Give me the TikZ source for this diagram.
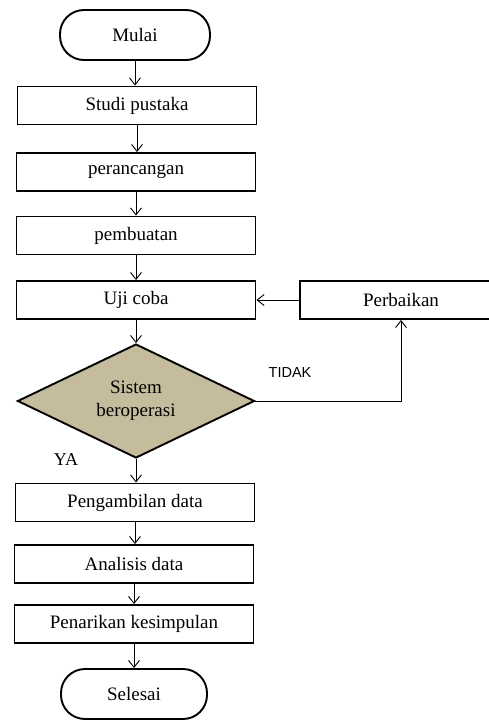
\documentclass[tikz,border=0pt]{standalone}
\usepackage{fontspec}
\setmainfont{Liberation Serif}
\newfontfamily\arialfont{Liberation Sans}
\usetikzlibrary{arrows.meta,shapes.geometric}
\definecolor{khaki}{RGB}{196,188,156}
\begin{document}
\begin{tikzpicture}[x=1pt,y=-1pt,
  boxst/.style={draw,line width=1.9pt,rectangle,minimum width=239pt,minimum height=38pt,inner sep=0pt,font=\fontsize{19}{21}\selectfont},
  termst/.style={draw,line width=1.9pt,rectangle,rounded corners=24pt,minimum height=50pt,inner sep=0pt,font=\fontsize{19}{21}\selectfont},
  decst/.style={draw,line width=1.9pt,diamond,fill=khaki,minimum width=237pt,minimum height=114pt,inner sep=0pt,shape aspect=2.08,align=center,font=\fontsize{19}{23}\selectfont},
  conn/.style={line width=0.9pt,-{Straight Barb[length=7pt,width=11pt,line width=0.9pt]}}
]
\clip (0,0) rectangle (489,720);
\node[termst,minimum width=150pt] (mulai) at (135,35) {Mulai};
\node[boxst] (studi) at (137,105.5) {Studi pustaka};
\node[boxst] (peran) at (136,172) {perancangan};
\node[boxst] (buat) at (136,235.5) {pembuatan};
\node[boxst] (uji) at (136,300) {Uji coba};
\node[boxst,minimum width=202pt] (perb) at (401,300) {Perbaikan};
\node[decst] (dec) at (136,401) {Sistem\\beroperasi};
\node[boxst] (ambil) at (135,502.5) {Pengambilan data};
\node[boxst] (anal) at (134,564) {Analisis data};
\node[boxst] (tarik) at (134,624) {Penarikan kesimpulan};
\node[termst,minimum width=146pt] (selesai) at (134,694) {Selesai};
\node[font=\arialfont\fontsize{14.5}{16}\selectfont] (tidak) at (290,373) {TIDAK};
\node[font=\fontsize{18}{20}\selectfont] (ya) at (66,460) {YA};
\draw[conn] (mulai.south) -- (mulai.south |- studi.north);
\draw[conn] (studi.south) -- (studi.south |- peran.north);
\draw[conn] (peran.south) -- (peran.south |- buat.north);
\draw[conn] (buat.south) -- (buat.south |- uji.north);
\draw[conn] (uji.south) -- (dec.north);
\draw[conn] (dec.south) -- (dec.south |- ambil.north);
\draw[conn] (ambil.south) -- (ambil.south |- anal.north);
\draw[conn] (anal.south) -- (anal.south |- tarik.north);
\draw[conn] (tarik.south) -- (tarik.south |- selesai.north);
\draw[conn] (dec.east) -| (perb.south);
\draw[conn] (perb.west) -- (uji.east);
\end{tikzpicture}
\end{document}
